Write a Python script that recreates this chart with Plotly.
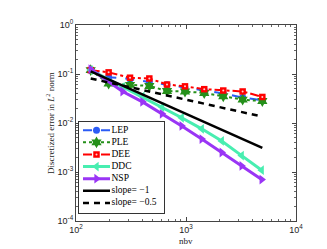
import plotly.graph_objects as go

# ---------------- data ----------------
nbv_a = [136, 198, 310, 464, 672, 979, 1465, 2182, 3273, 4943]   # LEP / PLE / DEE
nbv_b = [136, 265, 402, 605, 914, 1390, 2113, 3207, 4878]        # DDC / NSP

lep = [0.12, 0.086, 0.079, 0.069, 0.060, 0.052, 0.046, 0.040, 0.033, 0.029]
ple = [0.12, 0.064, 0.060, 0.057, 0.045, 0.044, 0.041, 0.035, 0.030, 0.028]
dee = [0.12, 0.108, 0.084, 0.081, 0.061, 0.056, 0.049, 0.046, 0.044, 0.034]
ddc = [0.12, 0.0548, 0.0348, 0.0211, 0.0128, 0.0076, 0.0043, 0.00216, 0.00109]
nsp = [0.125, 0.044, 0.027, 0.0154, 0.0087, 0.0047, 0.0025, 0.00133, 0.0007]

slope_x = [136, 4943]
slope1_y = [0.113, 0.0031]
slope05_y = [0.081, 0.0135]

y_tickvals = [1e-4, 1e-3, 1e-2, 1e-1, 1]
y_ticktext = ["10<sup>-4</sup>", "10<sup>-3</sup>", "10<sup>-2</sup>", "10<sup>-1</sup>", "10<sup>0</sup>"]
x_tickvals = [1e2, 1e3, 1e4]
x_ticktext = ["10<sup>2</sup>", "10<sup>3</sup>", "10<sup>4</sup>"]

legend_labels = ["LEP", "PLE", "DEE", "DDC", "NSP", "slope= \u22121", "slope= \u22120.5"]

# ---------------- styles ----------------
styles = [
    dict(color="#2b5bf5", dash="dash", width=2, symbol="circle", msize=7),
    dict(color="#25901a", dash="dot", width=2, symbol="hexagram", msize=9),
    dict(color="#ff0000", dash="dashdot", width=2, symbol="square", msize=6.5),
    dict(color="#48eeb0", dash="solid", width=3, symbol="triangle-left", msize=8.5),
    dict(color="#9a35f5", dash="solid", width=3, symbol="triangle-right", msize=8.5),
    dict(color="#000000", dash="solid", width=2.5, symbol=None, msize=0),
    dict(color="#000000", dash="6px,5px", width=2.5, symbol=None, msize=0),
]

series = [(nbv_a, lep), (nbv_a, ple), (nbv_a, dee), (nbv_b, ddc), (nbv_b, nsp),
          (slope_x, slope1_y), (slope_x, slope05_y)]

fig = go.Figure()
for (xs, ys), st, name in zip(series, styles, legend_labels):
    mode = "lines+markers" if st["symbol"] else "lines"
    fig.add_trace(go.Scatter(
        x=xs, y=ys, mode=mode, name=name, showlegend=False,
        line=dict(color=st["color"], dash=st["dash"], width=st["width"]),
        marker=dict(symbol=st["symbol"] or "circle", size=st["msize"],
                    color=st["color"], line=dict(width=0)),
    ))
    if name == "DEE":
        fig.add_trace(go.Scatter(x=xs, y=ys, mode="markers", showlegend=False,
                                 marker=dict(size=2, color="#ffd0d0")))

# ---------------- manual legend on its own small axes ----------------
LW, LH = 85, 95
row_top, row_step = 86, 12.55
for i, (st, name) in enumerate(zip(styles, legend_labels)):
    yy = row_top - row_step * i
    fig.add_trace(go.Scatter(
        x=[4, 31], y=[yy, yy], mode="lines", xaxis="x2", yaxis="y2", showlegend=False,
        line=dict(color=st["color"], dash=st["dash"], width=st["width"]),
        hoverinfo="skip"))
    if st["symbol"]:
        fig.add_trace(go.Scatter(
            x=[17.5], y=[yy], mode="markers", xaxis="x2", yaxis="y2", showlegend=False,
            marker=dict(symbol=st["symbol"], size=st["msize"], color=st["color"],
                        line=dict(width=0)), hoverinfo="skip"))
        if name == "DEE":
            fig.add_trace(go.Scatter(x=[17.5], y=[yy], mode="markers", xaxis="x2", yaxis="y2",
                                     showlegend=False, marker=dict(size=2, color="#ffd0d0")))
    fig.add_trace(go.Scatter(
        x=[32.5], y=[yy], mode="text", text=[name], textposition="middle right",
        xaxis="x2", yaxis="y2", showlegend=False,
        textfont=dict(family="Liberation Serif", size=9.5, color="#000"), hoverinfo="skip"))

# The page body adds an 8 px margin, so the figure is offset by (8, 8) in the window.
OFF = 8
W, H = 327 - OFF, 249 - OFF
# target plot area in window pixels: x 76..296, y 18..221
L, R, T, B = 76 - OFF, 31, 18 - OFF, 28
pw, ph = W - L - R, H - T - B

def px2paper_x(px):   # window pixel -> paper
    return (px - OFF - L) / pw

def px2paper_y(py):
    return (H - B - (py - OFF)) / ph

axis_common = dict(showline=True, linecolor="#444", linewidth=1, mirror="ticks",
                   ticks="inside", ticklen=4, tickcolor="#444", showgrid=False,
                   zeroline=False, tickfont=dict(family="Liberation Sans", size=9, color="#222"))

fig.update_layout(
    width=W, height=H, margin=dict(l=L, r=R, t=T, b=B),
    paper_bgcolor="white", plot_bgcolor="white",
    xaxis=dict(type="log", range=[2, 4], tickmode="array", tickvals=x_tickvals,
               ticktext=x_ticktext,
               minor=dict(ticks="inside", ticklen=2, tickcolor="#666", showgrid=False,
                          dtick="D1"),
               **axis_common),
    yaxis=dict(type="log", range=[-4, 0], tickmode="array", tickvals=y_tickvals,
               ticktext=y_ticktext,
               minor=dict(ticks="inside", ticklen=2, tickcolor="#666", showgrid=False,
                          dtick="D1"),
               **axis_common),
    xaxis2=dict(domain=[px2paper_x(79), px2paper_x(164)], range=[0, LW], anchor="y2",
                showline=True, mirror=True, linecolor="#333", linewidth=1,
                showticklabels=False, ticks="", showgrid=False, zeroline=False, fixedrange=True),
    yaxis2=dict(domain=[px2paper_y(213), px2paper_y(118)], range=[0, LH], anchor="x2",
                showline=True, mirror=True, linecolor="#333", linewidth=1,
                showticklabels=False, ticks="", showgrid=False, zeroline=False, fixedrange=True),
    annotations=[
        dict(text="Discretized error in <i>L</i><sup>2</sup> norm", xref="paper", yref="paper",
             x=px2paper_x(50), y=0.5, textangle=-90, showarrow=False,
             font=dict(family="Liberation Serif", size=9, color="#222"),
             xanchor="center", yanchor="middle"),
        dict(text="nbv", xref="paper", yref="paper", x=0.5, y=px2paper_y(242),
             showarrow=False, font=dict(family="Liberation Serif", size=9, color="#222"),
             xanchor="center", yanchor="middle"),
    ],
)

fig.write_html("out.html")
